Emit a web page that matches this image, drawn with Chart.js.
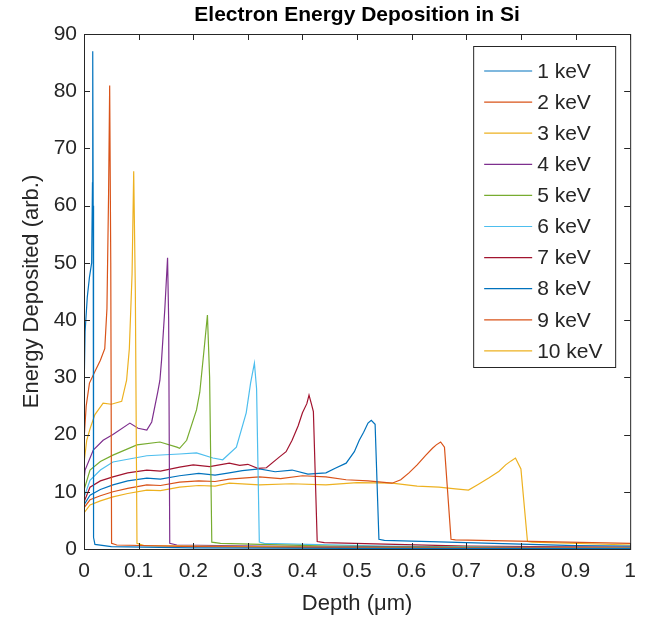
<!DOCTYPE html>
<html>
<head>
<meta charset="utf-8">
<script src="https://cdn.jsdelivr.net/npm/chart.js@4.4.1/dist/chart.umd.min.js"></script>
<style>
    body { margin: 0; background: #ffffff; }
    #contenedor { width: 646px; height: 618px; }
</style>
</head>
<body>
<div id="contenedor"><canvas id="grafico" width="646" height="618"></canvas></div>
<script>
// etiquetas y colores de cada serie (colores por defecto de MATLAB)
const etiquetas = ['1 keV', '2 keV', '3 keV', '4 keV', '5 keV', '6 keV', '7 keV', '8 keV', '9 keV', '10 keV'];
const colores = ['#0072BD', '#D95319', '#EDB120', '#7E2F8E', '#77AC30', '#4DBEEE', '#A2142F', '#0072BD', '#D95319', '#EDB120'];
const titulo = 'Electron Energy Deposition in Si';

// marcas de los ejes
const ticksX = [0, 0.1, 0.2, 0.3, 0.4, 0.5, 0.6, 0.7, 0.8, 0.9, 1];
const ticksY = [0, 10, 20, 30, 40, 50, 60, 70, 80, 90];

// profundidad (um) y energia depositada
const prof1 = [0, 0.002, 0.006, 0.01, 0.014, 0.0155, 0.016, 0.0168, 0.0175, 0.02, 0.05, 0.2, 0.5, 1];
const ener1 = [27, 38, 44, 47.5, 50, 64, 87, 60, 2, 0.8, 0.4, 0.2, 0.1, 0.05];

const prof2 = [0, 0.004, 0.01, 0.02, 0.03, 0.038, 0.042, 0.045, 0.047, 0.049, 0.0505, 0.06, 0.2, 0.5, 1];
const ener2 = [19, 25, 29, 31, 33, 35, 42, 62, 81, 50, 1, 0.7, 0.4, 0.2, 0.1];

const prof3 = [0, 0.005, 0.011, 0.02, 0.035, 0.05, 0.069, 0.078, 0.083, 0.088, 0.091, 0.094, 0.097, 0.11, 0.3, 0.6, 1];
const ener3 = [15, 19, 21, 23.5, 25.5, 25.3, 25.8, 29.5, 35, 48, 66, 45, 1, 0.6, 0.4, 0.2, 0.1];

const prof4 = [0, 0.002, 0.017, 0.035, 0.053, 0.084, 0.099, 0.115, 0.124, 0.135, 0.139, 0.142, 0.148, 0.153, 0.155, 0.157, 0.17, 0.4, 0.7, 1];
const ener4 = [12, 13.8, 17.3, 19, 20, 22, 21.1, 20.8, 22.2, 27.4, 29.5, 33, 42, 50.9, 40, 1, 0.7, 0.4, 0.25, 0.1];

const prof5 = [0, 0.011, 0.03, 0.053, 0.097, 0.139, 0.17, 0.175, 0.188, 0.206, 0.212, 0.22, 0.226, 0.23, 0.234, 0.25, 0.45, 0.8, 1];
const ener5 = [10.3, 13.8, 15.3, 16.4, 18.2, 18.7, 17.8, 17.6, 19, 24.3, 27.4, 35, 40.9, 30, 1.2, 1, 0.5, 0.25, 0.15];

const prof6 = [0, 0.011, 0.03, 0.053, 0.115, 0.175, 0.206, 0.236, 0.254, 0.279, 0.297, 0.305, 0.312, 0.316, 0.321, 0.33, 0.55, 0.8, 1];
const ener6 = [9, 12, 13.8, 15.2, 16.3, 16.6, 16.8, 15.9, 15.6, 17.8, 23.8, 29, 32.5, 28, 1.2, 1, 0.5, 0.3, 0.2];

const prof7 = [0, 0.011, 0.03, 0.053, 0.08, 0.115, 0.14, 0.175, 0.2, 0.23, 0.266, 0.285, 0.3, 0.318, 0.334, 0.358, 0.37, 0.381, 0.392, 0.4, 0.408, 0.412, 0.416, 0.42, 0.427, 0.44, 0.7, 1];
const ener7 = [8.2, 10.8, 11.9, 12.6, 13.3, 13.8, 13.6, 14.3, 14.7, 14.4, 15, 14.6, 14.8, 14.1, 14.2, 16.1, 17, 19, 21.5, 23.8, 25.4, 26.9, 25.5, 24, 1.3, 1.1, 0.5, 0.3];

const prof8 = [0, 0.011, 0.03, 0.053, 0.08, 0.115, 0.14, 0.175, 0.21, 0.24, 0.266, 0.29, 0.321, 0.35, 0.381, 0.41, 0.443, 0.46, 0.48, 0.495, 0.504, 0.512, 0.52, 0.526, 0.533, 0.54, 0.55, 0.9, 1];
const ener8 = [7.7, 9.4, 10.4, 11.2, 11.9, 12.4, 12.2, 12.8, 13.2, 12.9, 13.3, 13.7, 14, 13.5, 13.8, 13.1, 13.3, 14.1, 15, 17, 19, 20.4, 22, 22.5, 21.8, 1.7, 1.5, 0.6, 0.5];

const prof9 = [0, 0.011, 0.03, 0.053, 0.08, 0.115, 0.14, 0.175, 0.21, 0.24, 0.266, 0.321, 0.36, 0.4, 0.443, 0.48, 0.52, 0.564, 0.58, 0.595, 0.61, 0.626, 0.638, 0.645, 0.653, 0.66, 0.672, 0.68, 1];
const ener9 = [7.2, 8.6, 9.3, 10, 10.6, 11.2, 11.1, 11.7, 11.9, 11.8, 12.2, 12.6, 12.3, 12.8, 12.6, 12.1, 11.9, 11.5, 12.1, 13.3, 14.7, 16.4, 17.6, 18.2, 18.7, 17.8, 1.7, 1.6, 1];

const prof10 = [0, 0.011, 0.03, 0.053, 0.08, 0.115, 0.14, 0.175, 0.21, 0.24, 0.266, 0.321, 0.38, 0.443, 0.5, 0.564, 0.61, 0.65, 0.68, 0.704, 0.72, 0.741, 0.76, 0.772, 0.782, 0.79, 0.8, 0.812, 0.82, 1];
const ener10 = [6.3, 7.7, 8.4, 9.1, 9.7, 10.3, 10.2, 10.8, 11.1, 11, 11.5, 11.2, 11.4, 11.2, 11.6, 11.5, 11, 10.8, 10.5, 10.3, 11.2, 12.4, 13.6, 14.7, 15.4, 15.9, 14, 1.3, 1.2, 0.7];

const profundidades = [prof1, prof2, prof3, prof4, prof5, prof6, prof7, prof8, prof9, prof10];
const energias = [ener1, ener2, ener3, ener4, ener5, ener6, ener7, ener8, ener9, ener10];

const fuente = '"Liberation Sans", Arial, Helvetica, sans-serif';
const gris = '#262626';

// armar los datasets a partir de las listas
const datasets = etiquetas.map((nombre, i) => ({
    label: nombre,
    data: profundidades[i].map((x, j) => ({ x: x, y: energias[i][j] })),
    borderColor: colores[i],
    backgroundColor: colores[i],
    borderWidth: 1.2,
    pointRadius: 0,
    tension: 0,
    fill: false
}));

// caja de ejes con marcas hacia adentro (estilo MATLAB) + titulo centrado sobre los ejes
const marcoEjes = {
    id: 'marcoEjes',
    afterDatasetsDraw(chart) {
        const { ctx, chartArea: a, scales } = chart;
        ctx.save();
        ctx.strokeStyle = gris;
        ctx.lineWidth = 1;
        ctx.strokeRect(a.left + 0.5, a.top + 0.5, a.right - a.left, a.bottom - a.top);
        ctx.beginPath();
        ticksX.forEach(v => {
            const px = Math.round(scales.x.getPixelForValue(v)) + 0.5;
            ctx.moveTo(px, a.bottom); ctx.lineTo(px, a.bottom - 6);
            ctx.moveTo(px, a.top); ctx.lineTo(px, a.top + 6);
        });
        ticksY.forEach(v => {
            const py = Math.round(scales.y.getPixelForValue(v)) + 0.5;
            ctx.moveTo(a.left, py); ctx.lineTo(a.left + 6, py);
            ctx.moveTo(a.right, py); ctx.lineTo(a.right - 6, py);
        });
        ctx.stroke();

        ctx.fillStyle = '#000000';
        ctx.font = 'bold 21px ' + fuente;
        ctx.textAlign = 'center';
        ctx.textBaseline = 'middle';
        ctx.fillText(titulo, (a.left + a.right) / 2, 15);
        ctx.restore();
    }
};

// leyenda dentro del area del grafico, arriba a la derecha
const leyendaInterna = {
    id: 'leyendaInterna',
    afterDraw(chart) {
        const { ctx, chartArea: a } = chart;
        const ancho = 142, alto = 321;
        const x0 = a.right - 15 - ancho;
        const y0 = a.top + 12;
        ctx.save();
        ctx.fillStyle = '#ffffff';
        ctx.fillRect(x0, y0, ancho, alto);
        ctx.strokeStyle = gris;
        ctx.lineWidth = 1;
        ctx.strokeRect(x0 + 0.5, y0 + 0.5, ancho, alto);
        ctx.font = '21px ' + fuente;
        ctx.textBaseline = 'middle';
        chart.data.datasets.forEach((ds, i) => {
            const y = y0 + 25 + i * 31.1;
            ctx.strokeStyle = ds.borderColor;
            ctx.lineWidth = 1.2;
            ctx.beginPath();
            ctx.moveTo(x0 + 11, y);
            ctx.lineTo(x0 + 59, y);
            ctx.stroke();
            ctx.fillStyle = gris;
            ctx.fillText(ds.label, x0 + 64, y + 1);
        });
        ctx.restore();
    }
};

const ctx = document.getElementById('grafico').getContext('2d');
window.graficoInstance = new Chart(ctx, {
    type: 'line',
    data: { datasets: datasets },
    options: {
        responsive: false,
        animation: false,
        layout: { padding: { left: 0, right: 14, top: 34, bottom: 0 } },
        scales: {
            x: {
                type: 'linear',
                min: 0,
                max: 1,
                afterBuildTicks: (scale) => { scale.ticks = ticksX.map(v => ({ value: v })); },
                afterFit: (scale) => { scale.height = 69; },
                grid: { display: false, drawTicks: false },
                border: { display: false },
                ticks: {
                    color: gris,
                    padding: 10,
                    maxRotation: 0,
                    font: { family: fuente, size: 21 },
                    callback: (v) => String(Math.round(v * 10) / 10)
                },
                title: {
                    display: true,
                    text: 'Depth (μm)',
                    color: gris,
                    font: { family: fuente, size: 22 },
                    padding: { top: 0, bottom: 1 }
                }
            },
            y: {
                min: 0,
                max: 90,
                afterBuildTicks: (scale) => { scale.ticks = ticksY.map(v => ({ value: v })); },
                afterFit: (scale) => { scale.width = 84; },
                grid: { display: false, drawTicks: false },
                border: { display: false },
                ticks: {
                    color: gris,
                    padding: 7,
                    font: { family: fuente, size: 21 }
                },
                title: {
                    display: true,
                    text: 'Energy Deposited (arb.)',
                    color: gris,
                    font: { family: fuente, size: 22 },
                    padding: { top: 19, bottom: 0 }
                }
            }
        },
        plugins: {
            legend: { display: false },
            tooltip: { enabled: false },
            title: { display: false }
        }
    },
    plugins: [marcoEjes, leyendaInterna]
});
</script>
</body>
</html>
